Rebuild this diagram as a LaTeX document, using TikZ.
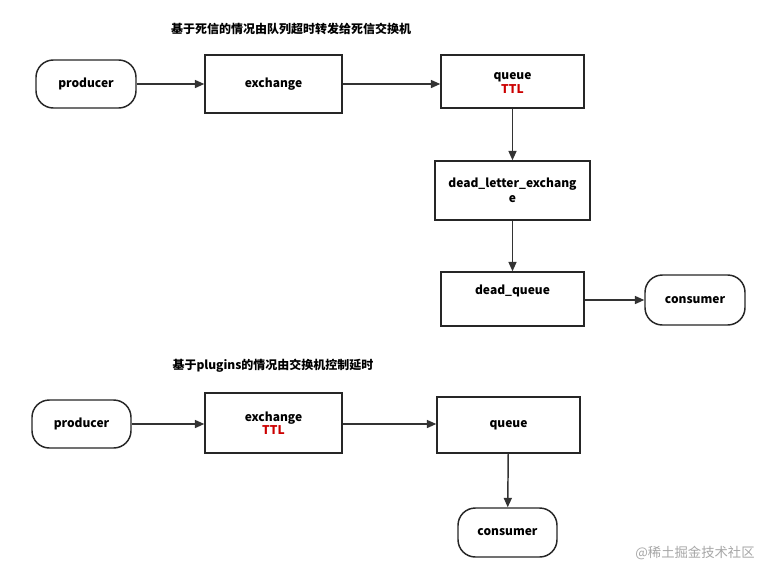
\documentclass[tikz,border=0pt]{standalone}
\usepackage{fontspec}
\setmainfont{Noto Sans CJK SC}
\usetikzlibrary{arrows.meta}
\begin{document}
\begin{tikzpicture}[x=0.75pt,y=-0.75pt,
  box/.style={draw=black!85,line width=1.1pt,fill=white,inner sep=0pt,font=\fontsize{9}{11}\selectfont\bfseries},
  pill/.style={box,rounded corners=13pt},
  arr/.style={draw=black!80,line width=1.1pt,-{Triangle[length=7pt,width=6pt]}},
  wh/.style 2 args={minimum width={#1*0.75pt},minimum height={#2*0.75pt}}]
\useasboundingbox (0,0) rectangle (774,571);
\node[font=\fontsize{9}{11}\selectfont\bfseries] (t1) at (291,29) {基于死信的情况由队列超时转发给死信交换机};
\node[pill,wh={100}{48}] (p1) at (86,84) {producer};
\node[box,wh={137}{58}] (e1) at (273.5,84) {exchange};
\node[box,wh={143}{53}] (q1) at (512.5,81.5) {};
\node[box,draw=none,fill=none,align=center] (q1t) at (512.5,83) {queue\\[-1pt]\textcolor{red!80!black}{TTL}};
\node[box,wh={155}{59},align=center] (d1) at (512.5,190.5) {dead\_letter\_exchang\\e};
\node[box,wh={143}{54}] (dq) at (512.5,299) {};
\node[box,draw=none,fill=none] (dqt) at (512.5,291) {dead\_queue};
\node[pill,wh={100}{50}] (c1) at (695,300) {consumer};
\draw[arr] (p1) -- (e1);
\draw[arr] (e1.east|-p1) -- (q1.west|-p1);
\draw[arr] (q1) -- (d1);
\draw[arr] (d1) -- (dq);
\draw[arr] (dq.east|-c1) -- (c1);

\node[font=\fontsize{9}{11}\selectfont\bfseries] (t2) at (273,366) {基于plugins的情况由交换机控制延时};
\node[pill,wh={99}{48}] (p2) at (81.5,424) {producer};
\node[box,wh={137}{60},align=center] (e2) at (273.5,423) {exchange\\[-1pt]\textcolor{red!80!black}{TTL}};
\node[box,wh={143}{56}] (q2) at (508.5,425) {queue};
\node[pill,wh={99}{49}] (c2) at (507.5,532.5) {consumer};
\draw[arr] (p2) -- (p2-|e2.west);
\draw[arr] (e2.east|-p2) -- (q2.west|-p2);
\draw[arr] (q2) -- (c2);
\node[text=black!35,font=\fontsize{10}{12}\selectfont] (wm) at (695,553) {@稀土掘金技术社区};
\end{tikzpicture}
\end{document}
